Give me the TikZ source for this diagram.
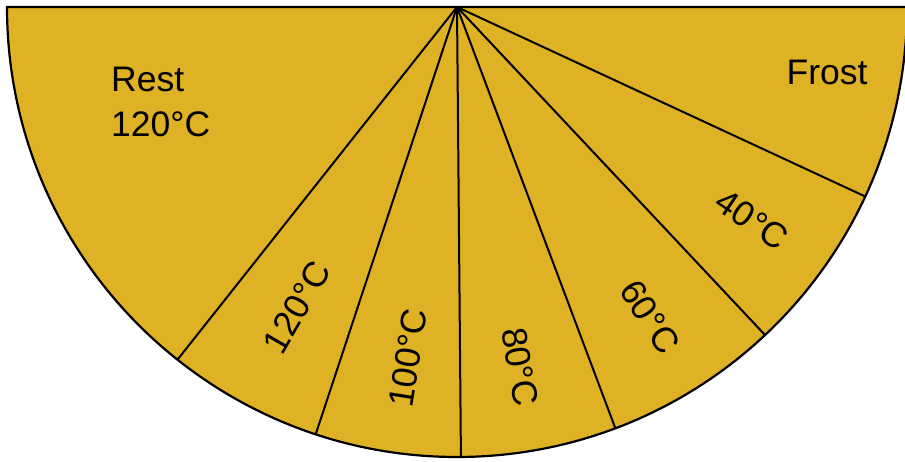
\documentclass[tikz,border=0pt]{standalone}
\usepackage{fontspec}
\setmainfont{Liberation Sans}
\definecolor{gold}{RGB}{222,178,36}
\begin{document}
\begin{tikzpicture}[x=1pt,y=1pt,
  rayline/.style={draw=black,line width=2pt},
  lbl/.style={font=\fontsize{35.5}{45}\selectfont,text=black,inner sep=0pt}]
\useasboundingbox (0,0) rectangle (905,461);
\coordinate (O) at (457,454);
\fill[gold,draw=black,line width=2.2pt] (7,454) arc[start angle=180,end angle=360,radius=450] -- cycle;
\foreach \a [count=\i] in {231.6,251.7,270.5,290.6,313.2,335.1}{
  \coordinate (e\i) at ([shift={(\a:450)}]O);
  \draw[rayline] (O) -- (e\i);
}
\node[lbl,align=left,anchor=north west] (rest) at (111,394) {Rest\\120°C};
\node[lbl] (frost) at (827,389) {Frost};
\node[lbl,rotate=60] (t120) at (297,154) {120°C};
\node[lbl,rotate=81] (t100) at (408,103) {100°C};
\node[lbl,rotate=-80] (t80) at (520,94) {80°C};
\node[lbl,rotate=-57] (t60) at (650,144) {60°C};
\node[lbl,rotate=-34] (t40) at (752,241) {40°C};
\end{tikzpicture}
\end{document}
